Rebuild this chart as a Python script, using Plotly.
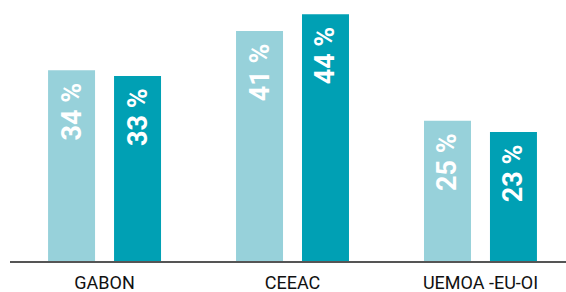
import plotly.graph_objects as go

categories = ["GABON", "CEEAC", "UEMOA -EU-OI"]
series_a = [34, 41, 25]
series_b = [33, 44, 23]

light = "#97d1da"
teal = "#00a0b4"
font_label = "Roboto, Liberation Sans, sans-serif"

def labels(vals):
    return [f"{v} %\u00a0\u200a" for v in vals]

fig = go.Figure()
for vals, col, off in [(series_a, light, -0.3005), (series_b, teal, 0.0505)]:
    fig.add_trace(go.Bar(
        x=categories, y=vals, marker_color=col, marker_line_width=0,
        width=0.25, offset=off,
        text=labels(vals), textposition="inside", insidetextanchor="end",
        textangle=-90,
        textfont=dict(family=font_label, size=27, color="white", weight="bold"),
        cliponaxis=False,
    ))

fig.update_layout(
    width=566, height=292,
    margin=dict(l=10, r=0, t=3, b=31),
    barmode="overlay",
    showlegend=False,
    plot_bgcolor="white", paper_bgcolor="white",
    xaxis=dict(
        type="category", range=[-0.503, 2.455],
        showline=True, linecolor="#555555", linewidth=2,
        showgrid=False, ticks="", zeroline=False,
        ticklabelstandoff=4,
        tickfont=dict(family=font_label, size=18, color="#111111"),
    ),
    yaxis=dict(range=[0, 46], visible=False, showgrid=False, zeroline=False),
)

fig.write_html(
    "out.html",
    config={"displayModeBar": False},
    post_script="document.body.style.margin='0';document.body.style.overflow='hidden';",
)
